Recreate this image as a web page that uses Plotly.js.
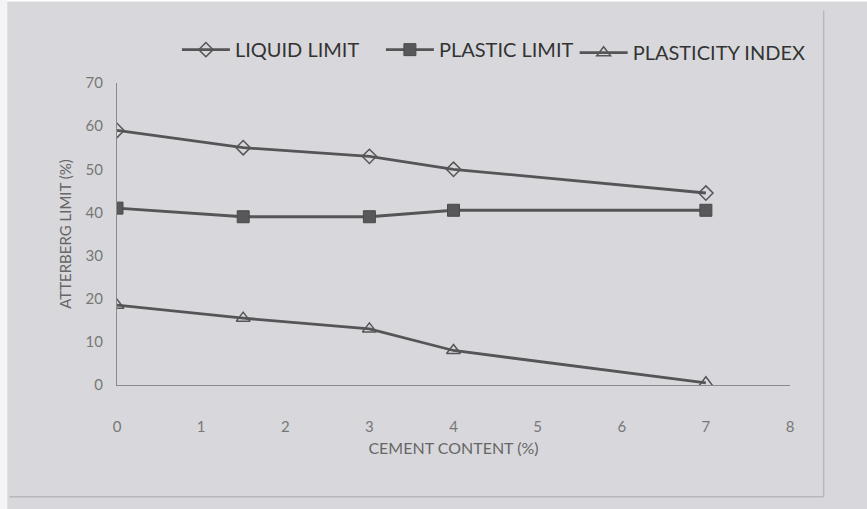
<!DOCTYPE html>
<html>
<head>
<meta charset="utf-8">
<script src="https://cdn.plot.ly/plotly-3.0.1.min.js"></script>
<style>html,body{margin:0;padding:0;background:#fff;}#chart{width:867px;height:509px;}</style>
</head>
<body>
<div id="chart"></div>
<script>
const cementContent = [0, 1.5, 3, 4, 7];
const liquidLimit = [59, 55, 53, 50, 44.5];
const plasticLimit = [41, 39, 39, 40.5, 40.5];
const plasticityIndex = [18.5, 15.5, 13, 8, 0.5];
const seriesNames = ["LIQUID LIMIT", "PLASTIC LIMIT", "PLASTICITY INDEX"];
const xTicks = [0, 1, 2, 3, 4, 5, 6, 7, 8];
const yTicks = [0, 10, 20, 30, 40, 50, 60, 70];

const lineCol = "#555557";
const traces = [
  {x: cementContent, y: liquidLimit, name: seriesNames[0], mode: "lines+markers",
   line: {color: lineCol, width: 2.8},
   marker: {symbol: "diamond-open", size: 11, color: lineCol, line: {width: 1.5, color: lineCol}}},
  {x: cementContent, y: plasticLimit, name: seriesNames[1], mode: "lines+markers",
   line: {color: lineCol, width: 2.8},
   marker: {symbol: "square", size: 12, color: "#58585a", line: {width: 1, color: "#4a4a4c"}}},
  {x: cementContent, y: plasticityIndex, name: seriesNames[2], mode: "lines+markers", legend: "legend2",
   line: {color: lineCol, width: 2.8},
   marker: {symbol: "triangle-up-open", size: 12, color: lineCol, line: {width: 1.5, color: lineCol}}}
];

const legendBase = {orientation: "h", xanchor: "left", yanchor: "top",
  font: {size: 20, color: "#333"}, bgcolor: "rgba(0,0,0,0)", itemwidth: 48};

const layout = {
  width: 867, height: 509,
  margin: {l: 117, r: 77, t: 83, b: 124},
  paper_bgcolor: "#d8d8dc",
  plot_bgcolor: "rgba(0,0,0,0)",
  font: {family: "Lato, 'Open Sans', sans-serif", color: "#444"},
  showlegend: true,
  legend: Object.assign({}, legendBase, {x: 0.089, y: 1.175, entrywidth: 141, entrywidthmode: "pixels"}),
  legend2: Object.assign({}, legendBase, {x: 0.68, y: 1.165}),
  xaxis: {range: [0, 8], tickvals: xTicks, ticks: "", showgrid: false, zeroline: false,
          showline: true, linecolor: "#8a8a8e", linewidth: 1,
          tickfont: {size: 15, color: "#777"}, ticklabelstandoff: 28,
          title: {text: "CEMENT CONTENT (%)", font: {size: 16, color: "#666"}, standoff: 8}},
  yaxis: {range: [0, 70], tickvals: yTicks, ticks: "", showgrid: false, zeroline: false,
          showline: true, linecolor: "#8a8a8e", linewidth: 1,
          tickfont: {size: 15, color: "#777"}, ticklabelstandoff: 10,
          title: {text: "ATTERBERG LIMIT (%)", font: {size: 15, color: "#666"}, standoff: 10}},
  shapes: [
    {type: "rect", xref: "paper", yref: "paper", x0: -0.18, x1: 1.12, y0: 1.27, y1: 1.4,
     fillcolor: "#ffffff", line: {width: 0}, layer: "below"},
    {type: "rect", xref: "paper", yref: "paper", x0: -0.18, x1: -0.163, y0: -0.5, y1: 1.4,
     fillcolor: "#f4f4f6", line: {width: 0}, layer: "below"},
    {type: "line", xref: "paper", yref: "paper", x0: 1.05, x1: 1.05, y0: -0.37, y1: 1.24,
     line: {color: "#b8b8bc", width: 1.5}, layer: "below"},
    {type: "line", xref: "paper", yref: "paper", x0: -0.16, x1: 1.05, y0: -0.37, y1: -0.37,
     line: {color: "#b8b8bc", width: 1.5}, layer: "below"}
  ]
};

Plotly.newPlot("chart", traces, layout, {displayModeBar: false, staticPlot: true});
</script>
</body>
</html>
